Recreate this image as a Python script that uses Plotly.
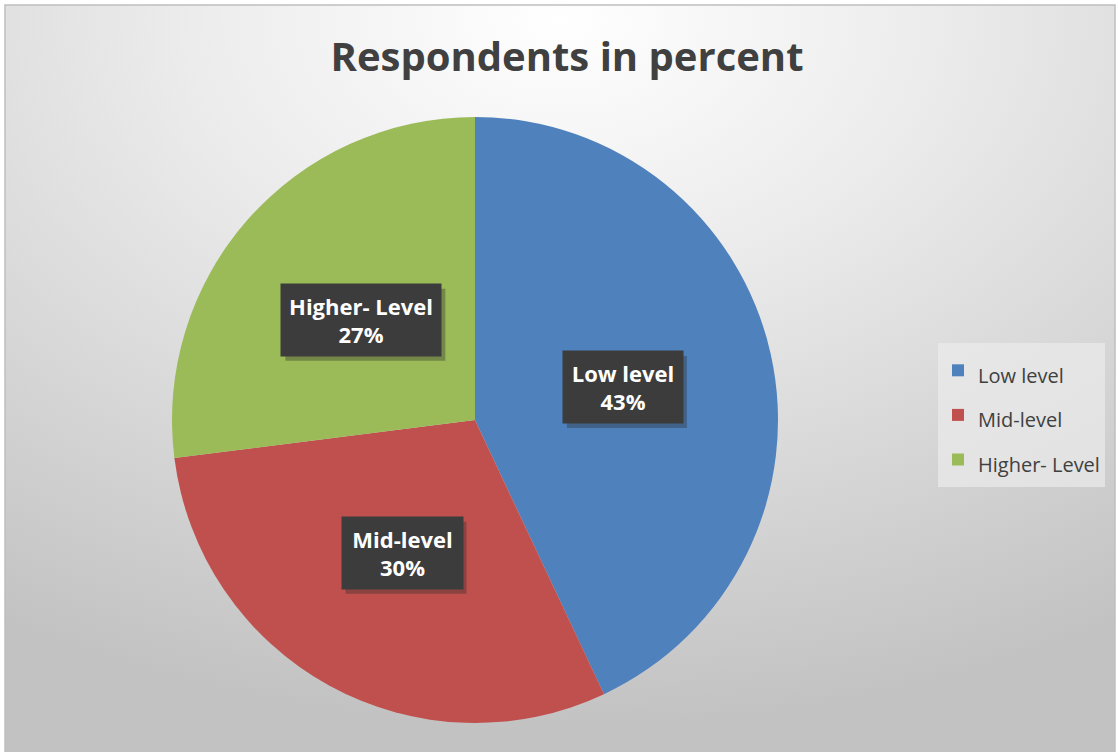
import base64
import math
import plotly.graph_objects as go

# Survey data
categories = ["Low level", "Mid-level", "Higher- Level"]
shares = [43, 30, 27]
colors = ["#4f81bd", "#c0504d", "#9bbb59"]

W, H = 1118, 752

# Pie placement in pixels (centre and radius)
cx, cy, rad = 475, 420, 303
dom_x = [(cx - rad) / W, (cx + rad) / W]
dom_y = [1 - (cy + rad) / H, 1 - (cy - rad) / H]

# Legend entries: tall rows (legend font) with smaller visible text
legend_labels = [f"<span style='font-size:20px'>{c}</span>" for c in categories]

fig = go.Figure()
fig.add_trace(go.Pie(
    labels=legend_labels,
    values=shares,
    marker=dict(colors=colors, line=dict(width=0)),
    sort=False,
    direction="clockwise",
    rotation=0,
    textinfo="none",
    hoverinfo="percent",
    domain=dict(x=dom_x, y=dom_y),
))

# Soft radial background for the chart area
svg = """<svg xmlns='http://www.w3.org/2000/svg' width='1110' height='747'>
<defs><radialGradient id='g' cx='0.5' cy='0.02' r='0.95' gradientUnits='objectBoundingBox'>
<stop offset='0' stop-color='#ffffff'/>
<stop offset='0.35' stop-color='#ececec'/>
<stop offset='1' stop-color='#c2c2c2'/>
</radialGradient></defs>
<rect width='1110' height='747' fill='url(#g)'/>
</svg>"""
src = "data:image/svg+xml;base64," + base64.b64encode(svg.encode()).decode()
fig.add_layout_image(dict(
    source=src, xref="paper", yref="paper",
    x=5 / W, y=1 - 5 / H, sizex=1110 / W, sizey=747 / H,
    xanchor="left", yanchor="top", sizing="stretch", layer="below",
))
fig.add_shape(type="rect", xref="paper", yref="paper",
              x0=5 / W, x1=1115 / W, y0=-0.01, y1=1 - 5 / H,
              line=dict(color="#bfbfbf", width=1.5), layer="below")

# Data labels in dark boxes at half radius, at each slice's middle angle
box_w = {"Low level": 120, "Mid-level": 121, "Higher- Level": 160}
box_h = 72
total = sum(shares)
start = 0.0
for name, v in zip(categories, shares):
    mid = (start + v / 2) / total * 2 * math.pi
    start += v
    px = cx + 0.5 * rad * math.sin(mid)
    py = cy - 0.5 * rad * math.cos(mid)
    bw = box_w[name]
    # drop shadow behind the label box
    fig.add_shape(type="rect", xref="paper", yref="paper",
                  x0=(px - bw / 2 + 4) / W, x1=(px + bw / 2 + 4) / W,
                  y0=1 - (py + box_h / 2 + 5) / H, y1=1 - (py - box_h / 2 + 5) / H,
                  fillcolor="rgba(40,40,40,0.35)", line=dict(width=0), layer="above")
    fig.add_annotation(x=px / W, y=1 - py / H, xref="paper", yref="paper",
                       xanchor="center", yanchor="middle",
                       text=f"<b>{name}<br>{round(v / total * 100)}%</b>", showarrow=False,
                       width=bw, height=box_h,
                       font=dict(family="Open Sans", size=22, color="white"),
                       bgcolor="#3c3c3c", borderpad=0)

fig.update_layout(
    width=W, height=H,
    margin=dict(l=0, r=0, t=0, b=0),
    paper_bgcolor="white",
    title=dict(text="<b>Respondents in percent</b>", x=567 / W, xanchor="center",
               y=1 - 57 / H, yanchor="middle",
               font=dict(family="Open Sans", size=40, color="#404040")),
    legend=dict(x=938 / W, y=1 - 343 / H, xanchor="left", yanchor="top",
                bgcolor="rgba(235,235,235,0.7)", itemwidth=30,
                font=dict(family="Open Sans", size=32, color="#404040")),
)

fig.write_html("out.html")
